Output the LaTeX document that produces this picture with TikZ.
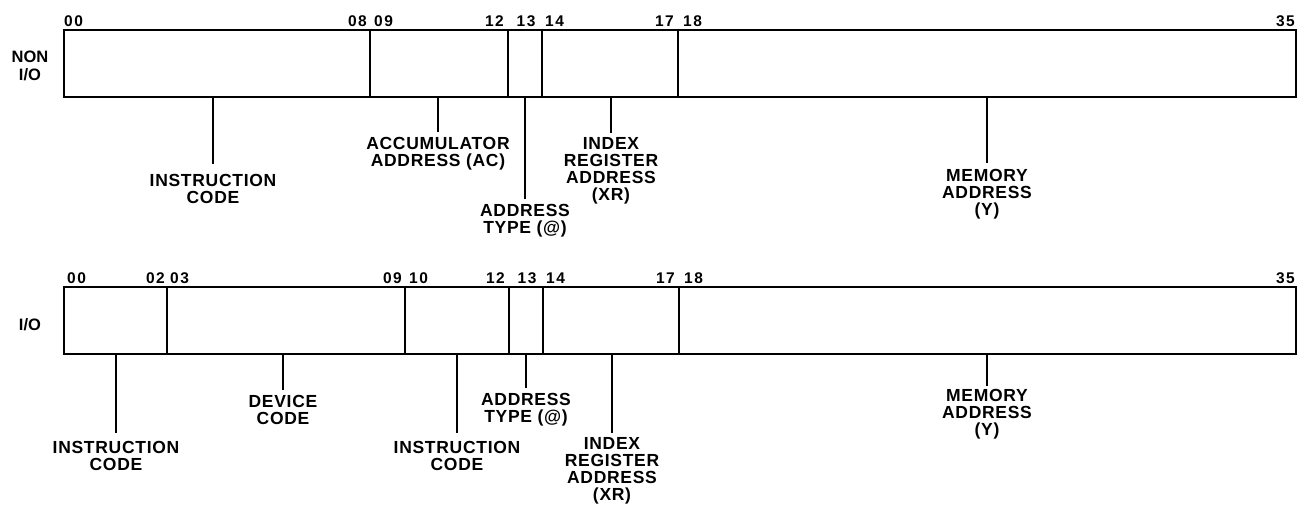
\documentclass[tikz,border=0pt]{standalone}
\usepackage{fontspec}
\setmainfont{Liberation Sans}
\newfontfamily\lblfont{Liberation Sans}[LetterSpace=4]
\newfontfamily\bitfont{Liberation Sans}[LetterSpace=10]
\begin{document}
\begin{tikzpicture}[x=1pt,y=-1pt,
  field/.style={draw, line width=1.3pt, minimum height=67pt, inner sep=0pt, outer sep=0pt},
  lbl/.style={font=\lblfont\bfseries\fontsize{17.5}{17.2}\selectfont, align=center, inner sep=0pt, anchor=north},
  bit/.style={font=\bitfont\bfseries\fontsize{15.5}{16}\selectfont, inner sep=0pt},
  rowlbl/.style={font=\bfseries\fontsize{16.5}{17.5}\selectfont, align=center, inner sep=0pt},
  lead/.style={line width=1.3pt},
  outerbar/.style={line width=2.3pt}]
\useasboundingbox (0,0) rectangle (1299,508);

% ---------- NON I/O word ----------
\node[rowlbl] (rowA) at (30,66) {NON\\I/O};
\node[field, minimum width=306pt] (f1) at (217,63.5) {};
\node[field, minimum width=138pt] (f2) at (439,63.5) {};
\node[field, minimum width=34pt]  (f3) at (525,63.5) {};
\node[field, minimum width=136pt] (f4) at (610,63.5) {};
\node[field, minimum width=618pt] (f5) at (987,63.5) {};
\draw[outerbar] (f1.north west) rectangle (f5.south east);

\node[bit, anchor=base west] (t00) at (64,27) {00};
\node[bit, anchor=base east] (t08) at (367,27) {08};
\node[bit, anchor=base west] (t09) at (374,27) {09};
\node[bit, anchor=base east] (t12) at (504,27) {12};
\node[bit, anchor=base]      (t13) at (526,27) {13};
\node[bit, anchor=base west] (t14) at (545,27) {14};
\node[bit, anchor=base east] (t17) at (674,27) {17};
\node[bit, anchor=base west] (t18) at (683,27) {18};
\node[bit, anchor=base east] (t35) at (1295,27) {35};

\node[lbl] (L1) at (213,174) {INSTRUCTION\\CODE};
\node[lbl] (L2) at (438,137) {ACCUMULATOR\\ADDRESS (AC)};
\node[lbl] (L3) at (525,204) {ADDRESS\\TYPE (@)};
\node[lbl] (L4) at (611,137) {INDEX\\REGISTER\\ADDRESS\\(XR)};
\node[lbl] (L5) at (987,169) {MEMORY\\ADDRESS\\(Y)};

\draw[lead, shorten >=10pt] (f1.south -| L1.north) -- (L1.north);
\draw[lead, shorten >=5pt]  (f2.south -| L2.north) -- (L2.north);
\draw[lead, shorten >=5pt]  (f3.south) -- (L3.north);
\draw[lead, shorten >=4pt]  (f4.south -| L4.north) -- (L4.north);
\draw[lead, shorten >=6pt]  (f5.south) -- (L5.north);

% ---------- I/O word ----------
\node[rowlbl] (rowB) at (30,324.5) {I/O};
\node[field, minimum width=103pt] (g1) at (115.5,320.5) {};
\node[field, minimum width=238pt] (g2) at (286,320.5) {};
\node[field, minimum width=104pt] (g3) at (457,320.5) {};
\node[field, minimum width=34pt]  (g4) at (526,320.5) {};
\node[field, minimum width=136pt] (g5) at (611,320.5) {};
\node[field, minimum width=617pt] (g6) at (987.5,320.5) {};
\draw[outerbar] (g1.north west) rectangle (g6.south east);

\node[bit, anchor=base west] (b00) at (67,283) {00};
\node[bit, anchor=base east] (b02) at (165,283) {02};
\node[bit, anchor=base west] (b03) at (170,283) {03};
\node[bit, anchor=base east] (b09) at (402,283) {09};
\node[bit, anchor=base west] (b10) at (409,283) {10};
\node[bit, anchor=base east] (b12) at (505,283) {12};
\node[bit, anchor=base]      (b13) at (527,283) {13};
\node[bit, anchor=base west] (b14) at (546,283) {14};
\node[bit, anchor=base east] (b17) at (675,283) {17};
\node[bit, anchor=base west] (b18) at (684,283) {18};
\node[bit, anchor=base east] (b35) at (1295,283) {35};

\node[lbl] (M1) at (116,441) {INSTRUCTION\\CODE};
\node[lbl] (M2) at (283,395) {DEVICE\\CODE};
\node[lbl] (M3) at (457,441) {INSTRUCTION\\CODE};
\node[lbl] (M4) at (526,393) {ADDRESS\\TYPE (@)};
\node[lbl] (M5) at (612,437) {INDEX\\REGISTER\\ADDRESS\\(XR)};
\node[lbl] (M6) at (987,389) {MEMORY\\ADDRESS\\(Y)};

\draw[lead, shorten >=8pt] (g1.south -| M1.north) -- (M1.north);
\draw[lead, shorten >=5pt] (g2.south -| M2.north) -- (M2.north);
\draw[lead, shorten >=8pt] (g3.south) -- (M3.north);
\draw[lead, shorten >=5pt] (g4.south) -- (M4.north);
\draw[lead, shorten >=4pt] (g5.south -| M5.north) -- (M5.north);
\draw[lead, shorten >=3pt] (g6.south -| M6.north) -- (M6.north);
\end{tikzpicture}
\end{document}
